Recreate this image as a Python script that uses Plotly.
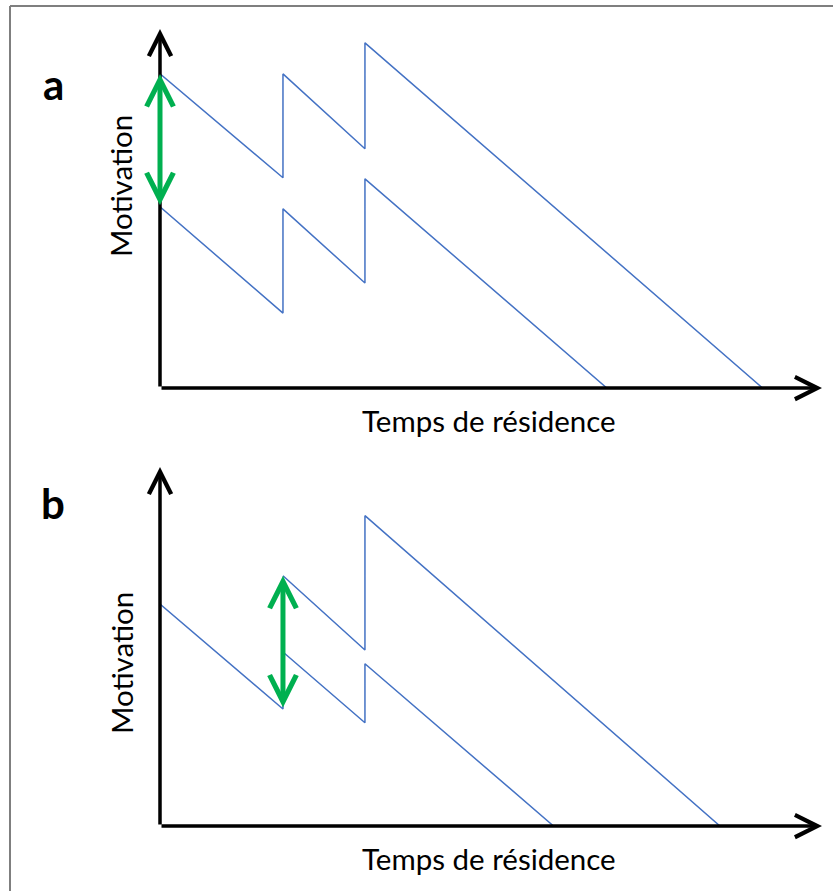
import plotly.graph_objects as go

# panel a
time_a_high = [0, 3, 3, 5, 5, 14.7]
motiv_a_high = [9.1, 6.09, 9.1, 6.93, 10.0, 0]
time_a_low = [0, 3, 3, 5, 5, 10.9]
motiv_a_low = [5.25, 2.17, 5.19, 3.04, 6.06, 0]

# panel b
time_b_high = [3, 5, 5, 13.66]
motiv_b_high = [7.25, 5.1, 8.99, 0]
time_b_low = [0, 3, 3, 5, 5, 9.6]
motiv_b_low = [6.43, 3.39, 5.04, 2.99, 4.7, 0]

# green double arrows: (x, y_bottom, y_top)
gap_a = [0, 5.25, 9.1]
gap_b = [3, 3.39, 7.25]

x_max = 16.15
y_max = 10.4
panel_letters = ["a", "b"]
x_title = "Temps de résidence"
y_title = "Motivation"

W, H = 833, 891
blue = "#4472C4"
green = "#00B050"
font = "Lato"

fig = go.Figure()

fig.add_trace(go.Scatter(x=time_a_high, y=motiv_a_high, mode="lines",
                         line=dict(color=blue, width=1.5), xaxis="x", yaxis="y"))
fig.add_trace(go.Scatter(x=time_a_low, y=motiv_a_low, mode="lines",
                         line=dict(color=blue, width=1.5), xaxis="x", yaxis="y"))
fig.add_trace(go.Scatter(x=time_b_high, y=motiv_b_high, mode="lines",
                         line=dict(color=blue, width=1.5), xaxis="x2", yaxis="y2"))
fig.add_trace(go.Scatter(x=time_b_low, y=motiv_b_low, mode="lines",
                         line=dict(color=blue, width=1.5), xaxis="x2", yaxis="y2"))

def px_x(p):
    return p / W

def px_y(p):
    return 1 - p / H

annotations = []
for xr, yr in [("x", "y"), ("x2", "y2")]:
    # axes as arrows
    annotations.append(dict(x=x_max, y=0, ax=0, ay=0, xref=xr, yref=yr, axref=xr, ayref=yr,
                            showarrow=True, arrowhead=5, arrowwidth=3.5, arrowsize=1.25,
                            arrowcolor="black", text=""))
    annotations.append(dict(x=0, y=y_max, ax=0, ay=0, xref=xr, yref=yr, axref=xr, ayref=yr,
                            showarrow=True, arrowhead=5, arrowwidth=3.5, arrowsize=1.25,
                            arrowcolor="black", text=""))

for (gx, gy0, gy1), xr, yr in [(gap_a, "x", "y"), (gap_b, "x2", "y2")]:
    annotations.append(dict(x=gx, y=gy1, ax=gx, ay=gy0, xref=xr, yref=yr, axref=xr, ayref=yr,
                            showarrow=True, arrowhead=5, startarrowhead=5, arrowside="end+start",
                            arrowwidth=5, arrowsize=1.05, startarrowsize=1.05,
                            arrowcolor=green, text=""))

# texts
for letter, cy in zip(panel_letters, [84, 503]):
    annotations.append(dict(x=px_x(53), y=px_y(cy), xref="paper", yref="paper",
                            text="<b>%s</b>" % letter, showarrow=False,
                            font=dict(family=font, size=42, color="black"),
                            xanchor="center", yanchor="middle"))
for cy in [420, 858]:
    annotations.append(dict(x=px_x(489), y=px_y(cy), xref="paper", yref="paper",
                            text=x_title, showarrow=False,
                            font=dict(family=font, size=29.5, color="black"),
                            xanchor="center", yanchor="middle"))
for cy in [186, 663]:
    annotations.append(dict(x=px_x(121), y=px_y(cy), xref="paper", yref="paper",
                            text=y_title, showarrow=False, textangle=-90,
                            font=dict(family=font, size=29.5, color="black"),
                            xanchor="center", yanchor="middle"))

axis_common = dict(visible=False, showgrid=False, zeroline=False, fixedrange=True)

fig.update_layout(
    width=W, height=H,
    margin=dict(l=0, r=0, t=0, b=0),
    paper_bgcolor="white", plot_bgcolor="white",
    showlegend=False,
    xaxis=dict(domain=[px_x(160), px_x(822)], range=[0, x_max], anchor="y", **axis_common),
    yaxis=dict(domain=[px_y(388), px_y(29)], range=[0, y_max], anchor="x", **axis_common),
    xaxis2=dict(domain=[px_x(160), px_x(822)], range=[0, x_max], anchor="y2", **axis_common),
    yaxis2=dict(domain=[px_y(826), px_y(467)], range=[0, y_max], anchor="x2", **axis_common),
    annotations=annotations,
    shapes=[
        dict(type="line", xref="paper", yref="paper", x0=px_x(10), x1=1.0, y0=px_y(6), y1=px_y(6),
             line=dict(color="#7f7f7f", width=2)),
        dict(type="line", xref="paper", yref="paper", x0=px_x(10), x1=px_x(10), y0=0, y1=px_y(6),
             line=dict(color="#7f7f7f", width=2)),
    ],
)

fig.write_html("out.html", config={"displayModeBar": False},
               post_script="document.body.style.margin='0';")
